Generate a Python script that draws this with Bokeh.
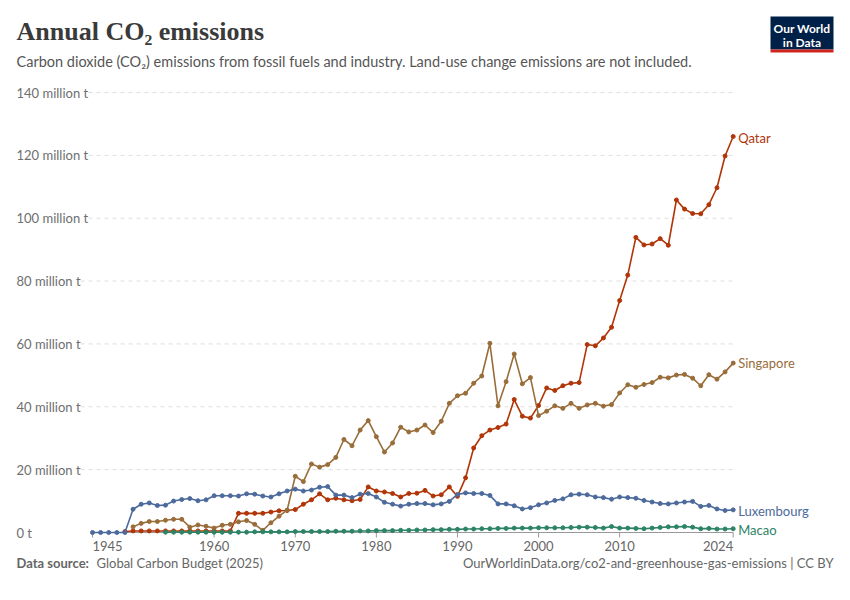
from bokeh.plotting import figure
from bokeh.core.properties import value
from bokeh.embed import file_html
from bokeh.resources import INLINE

# data (million tonnes CO2)
lux_years = list(range(1945, 2025))
lux = [0, 0, 0, 0, 0, 7.4, 9.0, 9.4, 8.6, 8.7, 10.0, 10.5, 10.8, 10.1, 10.4,
       11.7, 11.7, 11.7, 11.6, 12.3, 12.2, 11.6, 11.3, 12.3, 13.2,
       13.8, 13.2, 13.5, 14.4, 14.6, 11.9, 11.9, 11.1, 12.2, 12.4,
       11.3, 9.6, 9.0, 8.4, 9.0, 9.2, 9.2, 8.8, 9.1, 9.9,
       12.1, 12.6, 12.4, 12.4, 11.8, 9.1, 9.1, 8.5, 7.5, 7.9,
       8.8, 9.4, 10.2, 10.7, 12.0, 12.2, 12.0, 11.3, 11.1, 10.6,
       11.3, 11.1, 10.9, 10.2, 9.7, 9.2, 9.1, 9.4, 9.7, 9.9,
       8.3, 8.6, 7.5, 7.0, 7.2]
qat_years = list(range(1949, 2025))
qat = [0.3, 0.5, 0.5, 0.5, 0.5, 0.5, 0.5, 0.5, 0.5, 0.5, 0.5,
       0.5, 0.5, 0.5, 6.1, 6.1, 6.1, 6.1, 6.5, 6.9, 7.0,
       7.3, 9.0, 10.4, 12.3, 10.4, 10.9, 10.4, 10.1, 10.5, 14.5,
       13.2, 12.9, 12.4, 11.3, 12.4, 12.5, 13.4, 11.6, 12.0, 14.5,
       11.5, 17.4, 26.9, 30.8, 32.6, 33.4, 34.5, 42.3, 37.0, 36.4,
       40.4, 46.0, 45.2, 46.7, 47.5, 47.7, 59.8, 59.4, 61.9, 65.3,
       73.8, 81.9, 93.9, 91.5, 91.8, 93.5, 91.4, 105.8, 102.9, 101.5,
       101.4, 104.3, 109.7, 119.8, 126.0]
sgp_years = list(range(1950, 2025))
sgp = [1.8, 2.9, 3.5, 3.5, 3.9, 4.2, 4.2, 1.7, 2.4, 2.0,
       1.4, 2.3, 2.6, 3.4, 3.8, 2.6, 0.7, 3.1, 5.2, 7.1,
       17.9, 16.2, 21.8, 20.8, 21.6, 23.9, 29.6, 27.6, 32.6, 35.6,
       30.5, 25.6, 28.5, 33.5, 32.0, 32.6, 34.2, 31.8, 35.4, 41.1,
       43.5, 44.3, 47.5, 49.8, 60.2, 40.3, 48.0, 56.8, 47.3, 49.3,
       37.2, 38.6, 40.3, 39.5, 41.1, 39.5, 40.6, 41.1, 40.2, 40.7,
       44.4, 47.0, 46.2, 47.1, 47.7, 49.4, 49.2, 50.1, 50.3, 49.1,
       46.7, 50.2, 48.8, 51.1, 53.9]
mac_years = list(range(1954, 2025))
mac = [0.1, 0.1, 0.1, 0.1, 0.1, 0.1,
       0.1, 0.1, 0.1, 0.1, 0.1, 0.2, 0.2, 0.2, 0.2, 0.2,
       0.3, 0.3, 0.3, 0.3, 0.3, 0.4, 0.4, 0.4, 0.5, 0.5,
       0.6, 0.6, 0.6, 0.7, 0.7, 0.8, 0.8, 0.9, 0.9, 1.0,
       1.0, 1.1, 1.1, 1.2, 1.2, 1.3, 1.3, 1.4, 1.4, 1.4,
       1.5, 1.5, 1.5, 1.5, 1.6, 1.7, 1.7, 1.6, 1.4, 1.9,
       1.4, 1.4, 1.3, 1.2, 1.4, 1.6, 1.8, 1.8, 1.9, 1.7,
       1.2, 1.3, 1.1, 1.1, 1.2]
y_ticks = [0, 20, 40, 60, 80, 100, 120, 140]
y_tick_labels = ["0 t", "20 million t", "40 million t", "60 million t", "80 million t",
                 "100 million t", "120 million t", "140 million t"]
x_ticks = [1945, 1960, 1970, 1980, 1990, 2000, 2010, 2024]

series = [
    ("Qatar", qat_years, qat, "#B13507"),
    ("Singapore", sgp_years, sgp, "#996D39"),
    ("Luxembourg", lux_years, lux, "#4C6A9C"),
    ("Macao", mac_years, mac, "#2C8465"),
]
label_y = {"Qatar": 125.5, "Singapore": 53.8, "Luxembourg": 6.8, "Macao": 0.7}

FONT = value("Lato")
GREY = "#666666"
# the frame fills the whole figure; scales: 8.11 px / year, 3.143 px / million t
PXX, PXY = 8.11, 440 / 140
xs0 = 1945 - 92 / PXX
xs1 = xs0 + 834 / PXX
ys0 = -(584 - 532) / PXY
ys1 = 532 / PXY
left = xs0 + 16 / PXX

p = figure(width=834, height=584, x_range=(xs0, xs1), y_range=(ys0, ys1),
           output_backend="svg", toolbar_location=None,
           min_border=0, min_border_left=0, min_border_right=0,
           min_border_top=0, min_border_bottom=0)
p.axis.visible = False
p.grid.visible = False
p.outline_line_color = None

# gridlines and y labels
p.segment(x0=[left] * 7, y0=y_ticks[1:], x1=[2024] * 7, y1=y_ticks[1:],
          line_color="#dddddd", line_dash="4 4", line_width=1)
p.text(x=[left] * 8, y=y_ticks, text=y_tick_labels, text_font=FONT,
       text_font_size="13px", text_color="#6e6e6e", text_baseline="middle",
       background_fill_color="white")

# x axis
p.segment(x0=[1945], y0=[0], x1=[2024], y1=[0], line_color="#999999", line_width=1)
p.segment(x0=x_ticks, y0=[0] * 8, x1=x_ticks, y1=[-5 / PXY] * 8, line_color="#999999")
aligns = ["left"] + ["center"] * 6 + ["right"]
p.text(x=x_ticks, y=[0] * 8, text=[str(t) for t in x_ticks], y_offset=8,
       text_align=aligns, text_baseline="top", text_font=FONT,
       text_font_size="13px", text_color=GREY)

for name, xs, ys, col in series:
    p.line(xs, ys, line_color=col, line_width=1.6)
    p.scatter(xs, ys, size=4, fill_color=col, line_color=col)
    p.text(x=[2024], y=[label_y[name]], text=[name], x_offset=5,
           text_font=FONT, text_font_size="13px", text_color=col,
           text_baseline="middle")

# header / footer
p.text(x=[left], y=[ys1], text=["Annual CO₂ emissions"], y_offset=16,
       text_font=value("Liberation Serif"), text_font_style="bold", text_font_size="26px",
       text_color="#3a3a3a", text_baseline="top")
p.text(x=[left], y=[ys1], text=["Carbon dioxide (CO₂) emissions from fossil fuels and industry. "
                                "Land-use change emissions are not included."],
       y_offset=52, text_font=FONT, text_font_size="14.5px", text_color="#555555",
       text_baseline="top")
p.text(x=[left], y=[ys0], text=["Data source:"], y_offset=-14, text_font=FONT,
       text_font_style="bold", text_font_size="13px", text_color=GREY,
       text_baseline="bottom")
p.text(x=[left], y=[ys0], text=["Global Carbon Budget (2025)"], x_offset=80, y_offset=-14,
       text_font=FONT, text_font_size="13px", text_color=GREY, text_baseline="bottom")
p.text(x=[xs1], y=[ys0], text=["OurWorldinData.org/co2-and-greenhouse-gas-emissions | CC BY"],
       x_offset=-1, y_offset=-14, text_font=FONT, text_font_size="13px", text_color=GREY,
       text_baseline="bottom", text_align="right")

# logo
lx0, lx1 = xs0 + 770 / PXX, xs0 + 833 / PXX
p.quad(left=[lx0], right=[lx1], top=[ys1 - 16 / PXY], bottom=[ys1 - 49 / PXY],
       fill_color="#002147", line_color=None)
p.quad(left=[lx0], right=[lx1], top=[ys1 - 49 / PXY], bottom=[ys1 - 52 / PXY],
       fill_color="#CE261E", line_color=None)
p.text(x=[(lx0 + lx1) / 2] * 2, y=[ys1] * 2, text=["Our World", "in Data"],
       y_offset=[20, 34], text_align="center", text_baseline="top", text_font=FONT,
       text_font_style="bold", text_font_size="12px", text_color="white")

open("out.html", "w").write(file_html(p, INLINE))
